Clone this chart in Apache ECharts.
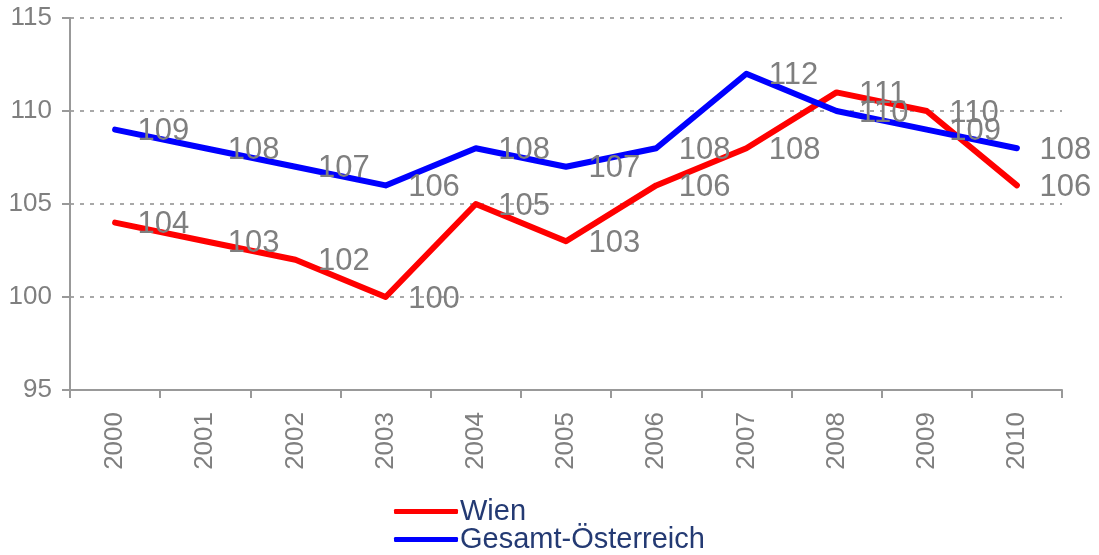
<!DOCTYPE html>
<html>
<head>
<meta charset="utf-8">
<script src="https://cdn.jsdelivr.net/npm/echarts@6/dist/echarts.min.js"></script>
<style>
  html, body { margin: 0; padding: 0; background: #fff; }
  #chart { width: 1099px; height: 555px; }
</style>
</head>
<body>
<div id="chart"></div>
<script>
var years = ['2000', '2001', '2002', '2003', '2004', '2005', '2006', '2007', '2008', '2009', '2010']
var wien = [104, 103, 102, 100, 105, 103, 106, 108, 111, 110, 106]
var gesamt = [109, 108, 107, 106, 108, 107, 108, 112, 110, 109, 108]

var chart = echarts.init(document.getElementById('chart'))
var font = 'Liberation Sans, Arial, sans-serif'
var axisGray = '#999999'

function lineSeries(name, color, data) {
  return {
    name: name,
    type: 'line',
    data: data,
    symbol: 'circle',
    symbolSize: 1,
    showSymbol: true,
    lineStyle: { color: color, width: 6, cap: 'round', join: 'round' },
    itemStyle: { color: color },
    label: {
      show: true,
      position: 'right',
      distance: 22,
      offset: [0, 2],
      color: '#7f7f7f',
      fontSize: 31,
      fontFamily: font
    },
    emphasis: { disabled: true },
    animation: false
  }
}

// one legend per row, so they stack like the original
function legendRow(name, top) {
  return {
    left: 389,
    top: top,
    itemWidth: 64,
    itemHeight: 5,
    icon: 'roundRect',
    selectedMode: false,
    textStyle: { color: '#243a73', fontSize: 29, fontFamily: font, padding: [0, 0, 0, -3] },
    data: [name]
  }
}

chart.setOption({
  backgroundColor: '#fff',
  animation: false,
  grid: { left: 70, right: 37, top: 18, bottom: 165 },
  legend: [
    legendRow('Wien', 492),
    legendRow('Gesamt-Österreich', 520)
  ],
  xAxis: {
    type: 'category',
    data: years,
    boundaryGap: true,
    axisLine: { lineStyle: { color: axisGray, width: 2 } },
    axisTick: { show: true, length: 8, lineStyle: { color: axisGray, width: 2 } },
    axisLabel: { rotate: 90, margin: 22, color: '#7f7f7f', fontSize: 26, fontFamily: font },
    splitLine: { show: false }
  },
  yAxis: {
    type: 'value',
    min: 95,
    max: 115,
    interval: 5,
    axisLine: { show: true, lineStyle: { color: axisGray, width: 2 } },
    axisTick: { show: true, length: 8, lineStyle: { color: axisGray, width: 2 } },
    axisLabel: { margin: 18, color: '#7f7f7f', fontSize: 26, fontFamily: font },
    splitLine: { lineStyle: { color: '#8c8c8c', type: [4, 6], width: 1.5 } }
  },
  series: [
    lineSeries('Wien', '#ff0000', wien),
    lineSeries('Gesamt-Österreich', '#0000ff', gesamt)
  ]
})
</script>
</body>
</html>
